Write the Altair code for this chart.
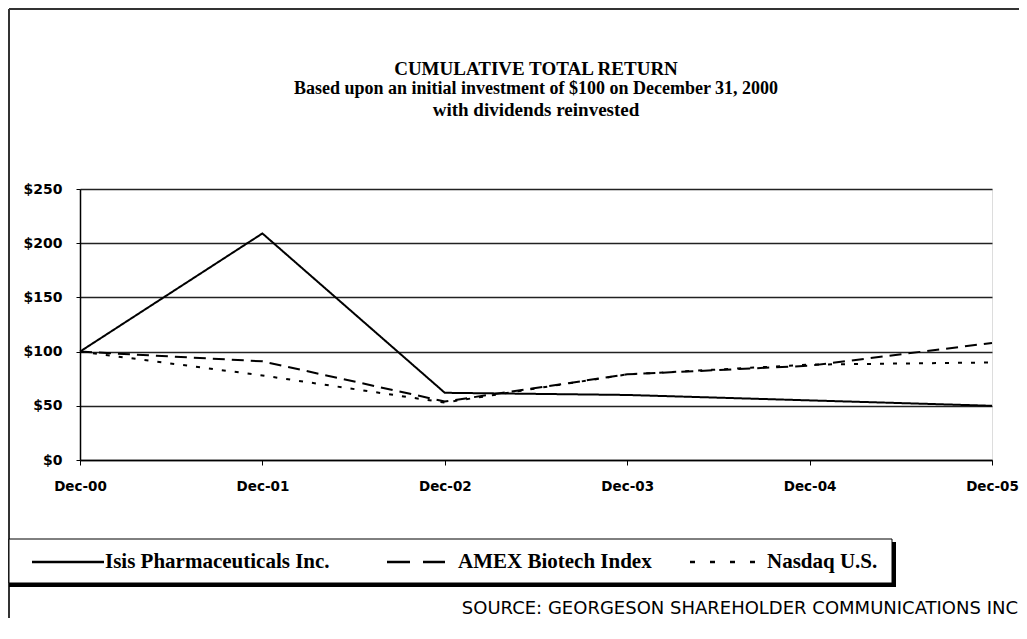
import altair as alt
import pandas as pd

dates = ["Dec-00", "Dec-01", "Dec-02", "Dec-03", "Dec-04", "Dec-05"]
isis = [100, 209, 62, 60, 55, 50]
amex = [100, 91, 54, 79, 87, 108]
nasdaq = [100, 78, 53, 79, 88, 90]
series_names = ["Isis Pharmaceuticals Inc.", "AMEX Biotech Index", "Nasdaq U.S."]
title_lines = [
    "CUMULATIVE TOTAL RETURN",
    "Based upon an initial investment of $100 on December 31, 2000",
    "with dividends reinvested",
]
source_text = "SOURCE: GEORGESON SHAREHOLDER COMMUNICATIONS INC"
y_ticks = [0, 50, 100, 150, 200, 250]

rows = []
for name, vals in zip(series_names, [isis, amex, nasdaq]):
    for i, (d, v) in enumerate(zip(dates, vals)):
        rows.append({"date": d, "series": name, "value": v, "order": i})
df = pd.DataFrame(rows)

dash_range = [[1, 0], [12, 7], [4, 9]]

lines = alt.Chart(df).mark_line(color="black", strokeWidth=2, strokeCap="butt").encode(
    x=alt.X("date:N", sort=dates, scale=alt.Scale(type="point", padding=0),
            axis=alt.Axis(title=None, labelAngle=0, labelFont="DejaVu Sans", labelFontWeight="bold",
                          labelFontSize=13.5, labelColor="black", tickColor="black", tickSize=5,
                          domainColor="black", domainWidth=1.5, labelPadding=14, labelBaseline="top",
                          labelBound=False, grid=False)),
    y=alt.Y("value:Q", scale=alt.Scale(domain=[0, 250], nice=False),
            axis=alt.Axis(title=None, values=y_ticks, labelExpr="'$' + datum.value",
                          labelFont="DejaVu Sans", labelFontWeight="bold", labelFontSize=14,
                          labelColor="black", tickColor="black", tickSize=4, labelPadding=14,
                          domainColor="black", domainWidth=1.5, grid=True, gridColor="#222",
                          gridWidth=1.5, gridOpacity=1)),
    strokeDash=alt.StrokeDash("series:N", scale=alt.Scale(domain=series_names, range=dash_range),
                              legend=None),
    order="order:Q",
)

one = pd.DataFrame({"k": [0]})

def text_layer(txt, x, y, size, font, weight="bold", align="center"):
    return alt.Chart(pd.DataFrame({"t": [txt]})).mark_text(
        font=font, fontSize=size, fontWeight=weight, align=align, baseline="middle", color="black"
    ).encode(text="t:N", x=alt.value(x), y=alt.value(y))

titles = [
    text_layer(title_lines[0], 456, -120, 19, "Liberation Serif"),
    text_layer(title_lines[1], 456, -100, 18, "Liberation Serif"),
    text_layer(title_lines[2], 456, -79, 19, "Liberation Serif"),
]

frame_top = alt.Chart(one).mark_rule(color="#333", strokeWidth=2).encode(
    x=alt.value(-71), x2=alt.value(947), y=alt.value(-180))
frame_left = alt.Chart(one).mark_rule(color="#333", strokeWidth=2).encode(
    x=alt.value(-71), y=alt.value(-180), y2=alt.value(445))

shadow = alt.Chart(one).mark_rect(color="black").encode(
    x=alt.value(-71), x2=alt.value(816), y=alt.value(353), y2=alt.value(398))
box = alt.Chart(one).mark_rect(fill="white", stroke="black", strokeWidth=1).encode(
    x=alt.value(-71), x2=alt.value(812), y=alt.value(350), y2=alt.value(394))

def sample(x1, x2, dash):
    return alt.Chart(one).mark_rule(color="black", strokeWidth=2.5, strokeDash=dash, strokeCap="butt").encode(
        x=alt.value(x1), x2=alt.value(x2), y=alt.value(373))

legend_layers = [
    sample(-48, 24, [1, 0]),
    text_layer(series_names[0], 25, 373, 21, "Liberation Serif", align="left"),
    sample(307, 365, [23, 13]),
    text_layer(series_names[1], 378, 373, 21, "Liberation Serif", align="left"),
    sample(610, 686, [5, 15]),
    text_layer(series_names[2], 687, 373, 21, "Liberation Serif", align="left"),
]

source = text_layer(source_text, 938, 420, 18, "DejaVu Sans", weight="normal", align="right")

chart = alt.layer(
    frame_top, frame_left, lines, *titles, shadow, box, *legend_layers, source
).properties(
    width=912, height=271,
    padding={"left": 72, "top": 181, "right": 27, "bottom": 158},
    autosize=alt.AutoSizeParams(type="none"),
).configure_view(stroke=None).configure(background="white")

chart.save("out.html", embed_options={"renderer": "svg", "actions": False})
